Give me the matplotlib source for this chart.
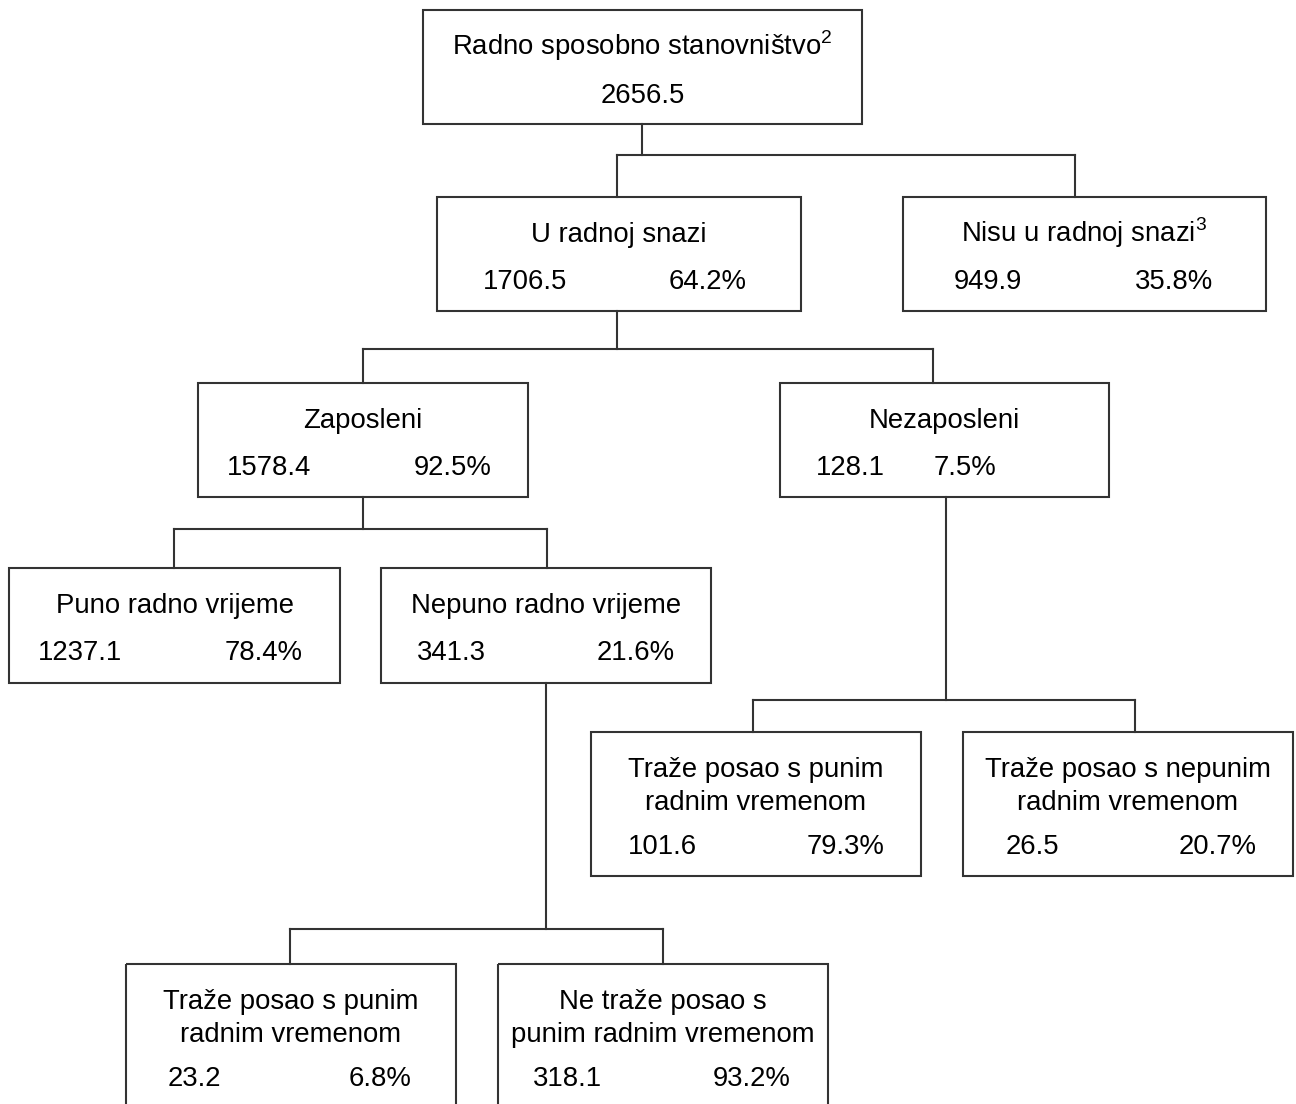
import matplotlib.pyplot as plt
from matplotlib.patches import Rectangle

plt.rcParams['font.family'] = ['Liberation Sans', 'DejaVu Sans']
plt.rcParams['mathtext.fontset'] = 'custom'
plt.rcParams['mathtext.rm'] = 'Liberation Sans'

#%% data
labels = [
    "Radno sposobno stanovništvo$^{2}$",
    "U radnoj snazi",
    "Nisu u radnoj snazi$^{3}$",
    "Zaposleni",
    "Nezaposleni",
    "Puno radno vrijeme",
    "Nepuno radno vrijeme",
    "Traže posao s punim\nradnim vremenom",
    "Traže posao s nepunim\nradnim vremenom",
    "Traže posao s punim\nradnim vremenom",
    "Ne traže posao s\npunim radnim vremenom",
]
values = [2656.5, 1706.5, 949.9, 1578.4, 128.1, 1237.1, 341.3, 101.6, 26.5, 23.2, 318.1]
shares = [None, 64.2, 35.8, 92.5, 7.5, 78.4, 21.6, 79.3, 20.7, 6.8, 93.2]

#%% layout (pixels, y down)
# x0, x1, y0, y1, x of number, right x of share
boxes = [
    (423, 862, 10, 124, None, None),
    (437, 801, 197, 311, 483, 747),
    (903, 1266, 197, 311, 954, 1213),
    (198, 528, 383, 497, 227, 492),
    (780, 1109, 383, 497, 816, 996),
    (9, 340, 568, 683, 38, 303),
    (381, 711, 568, 683, 417, 675),
    (591, 921, 732, 876, 628, 884),
    (963, 1293, 732, 876, 1006, 1257),
    (126, 456, 964, 1130, 168, 412),
    (498, 828, 964, 1130, 533, 791),
]
# parent, stem x, bar y, [(child, drop x)]
links = [
    (0, 642, 155, [(1, 617), (2, 1075)]),
    (1, 617, 349, [(3, 363), (4, 933)]),
    (3, 363, 529, [(5, 174), (6, 547)]),
    (4, 946, 700, [(7, 753), (8, 1135)]),
    (6, 546, 929, [(9, 290), (10, 663)]),
]

fig = plt.figure(figsize=(12.96, 11.04), dpi=100)
ax = fig.add_axes([0, 0, 1, 1])
ax.set_xlim(0, 1296)
ax.set_ylim(1104, 0)
ax.axis("off")

lc = "#333333"
lw = 1.5
fs = 19.8

for p, sx, by, kids in links:
    ax.plot([sx, sx], [boxes[p][3], by], color=lc, lw=lw, solid_capstyle="projecting")
    xs = [k[1] for k in kids] + [sx]
    ax.plot([min(xs), max(xs)], [by, by], color=lc, lw=lw, solid_capstyle="projecting")
    for c, dx in kids:
        ax.plot([dx, dx], [by, boxes[c][2]], color=lc, lw=lw, solid_capstyle="projecting")

for i, (x0, x1, y0, y1, xn, xp) in enumerate(boxes):
    ax.add_patch(Rectangle((x0, y0), x1 - x0, y1 - y0, fill=False, ec=lc, lw=lw))
    lines = labels[i].split("\n")
    cx = (x0 + x1) / 2
    for j, ln in enumerate(lines):
        ax.text(cx, y0 + 45 + 33 * j, ln, ha="center", va="baseline", fontsize=fs)
    ny = y0 + 92 if len(lines) == 1 else y0 + 122
    if shares[i] is None:
        ax.text(cx, ny + 1, f"{values[i]:.1f}", ha="center", va="baseline", fontsize=fs)
    else:
        ax.text(xn, ny, f"{values[i]:.1f}", ha="left", va="baseline", fontsize=fs)
        ax.text(xp, ny, f"{shares[i]:.1f}%", ha="right", va="baseline", fontsize=fs)

fig.savefig("out.png", dpi=100, facecolor="white")
